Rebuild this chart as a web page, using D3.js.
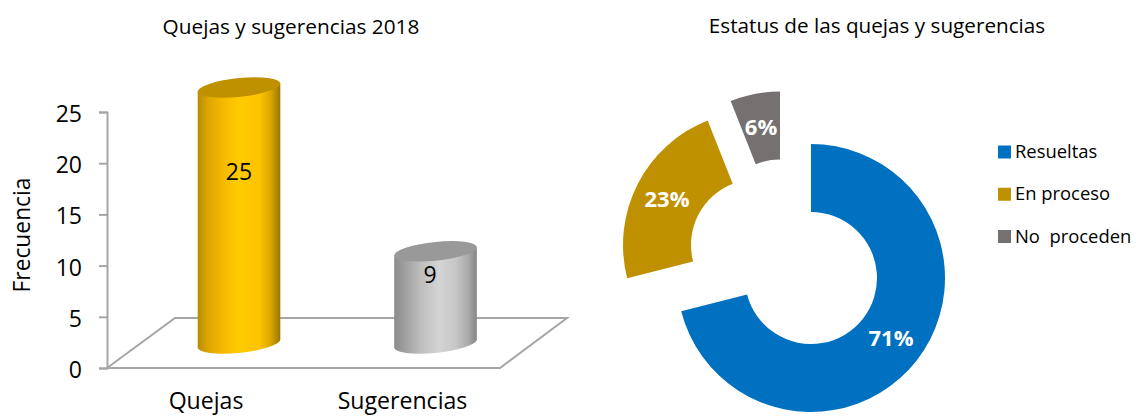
<!DOCTYPE html>
<html><head><meta charset="utf-8">
<script src="https://cdnjs.cloudflare.com/ajax/libs/d3/7.8.5/d3.min.js"></script>
<style>html,body{margin:0;padding:0;background:#fff}svg{display:block}text{font-family:"Open Sans",Lato,sans-serif;fill:#000;white-space:pre}</style>
</head><body><svg id="c" width="1136" height="416"></svg>
<script>
const barCategories = ["Quejas", "Sugerencias"];
const barValues = [25, 9];
const barTicks = [0, 5, 10, 15, 20, 25];
const donutCategories = ["Resueltas", "En proceso", "No  proceden"];
const donutValues = [71, 23, 6];
const donutColors = ["#0070C0", "#BF9000", "#767171"];
const titleLeft = "Quejas y sugerencias 2018";
const titleRight = "Estatus de las quejas y sugerencias";
const yTitle = "Frecuencia";

const svg = d3.select("#c");
const defs = svg.append("defs");
const grey = "#A6A6A6";

function grad(id, stops){
  const g = defs.append("linearGradient").attr("id", id);
  stops.forEach(([o,c]) => g.append("stop").attr("offset", o).attr("stop-color", c));
}
grad("gGold", [[0,"#B78B04"],[.12,"#DDA503"],[.3,"#F5B800"],[.5,"#FFCB00"],[.75,"#FDC300"],[.88,"#DCA700"],[1,"#9A7600"]]);
grad("gGrey", [[0,"#8C8C8C"],[.15,"#A2A2A2"],[.32,"#BEBEBE"],[.55,"#D4D4D4"],[.75,"#C6C6C6"],[.9,"#A8A8A8"],[1,"#858585"]]);

svg.append("text").attr("x",291).attr("y",34).attr("text-anchor","middle").style("font-size","20.8px").text(titleLeft);
svg.append("text").attr("x",877).attr("y",33).attr("text-anchor","middle").style("font-size","20.7px").text(titleRight);

// ---- bar chart
const y = d3.scaleLinear().domain([0,25]).range([368,112]);
const x = d3.scalePoint().domain(barCategories).range([239,435.5]);
const depthDx = 68, depthDy = -50, floorRight = 500, axisX = 107;
const baseLift = 24.5, rx = 41.3, ry = 9.4, skew = -5.6;

const floor = d3.path();
floor.moveTo(axisX, y(0));
floor.lineTo(axisX+depthDx, y(0)+depthDy);
floor.lineTo(floorRight+depthDx-1, y(0)+depthDy);
floor.lineTo(floorRight, y(0));
floor.closePath();
svg.append("path").attr("d",floor.toString()).attr("fill","none").attr("stroke",grey).attr("stroke-width",2);

const yAxis = svg.append("g").attr("transform",`translate(${axisX},0)`)
  .call(d3.axisLeft(y).tickValues(barTicks).tickSize(8).tickPadding(17));
yAxis.selectAll("path,line").attr("stroke",grey).attr("stroke-width",2);
yAxis.selectAll("text").style("font-size","23px").attr("dy","0.41em").attr("fill","#000");

const xAxis = svg.append("g").attr("transform","translate(-33.5,389)")
  .call(d3.axisBottom(x).tickSize(0).tickPadding(4));
xAxis.select(".domain").remove();
xAxis.selectAll("text").style("font-size","23.1px").attr("fill","#000");

svg.append("text").attr("transform","translate(29.5,235) rotate(-90)").attr("text-anchor","middle").style("font-size","22.8px").text(yTitle);

const bars = svg.append("g").selectAll("g").data(barValues).join("g")
  .attr("transform",(d,i)=>`translate(${x(barCategories[i])},0) skewY(${skew})`);
bars.append("path")
  .attr("d",d=>{
    const top = y(d)-baseLift, bot = y(0)-baseLift;
    return `M${-rx},${top}V${bot}A${rx},${ry} 0 0 0 ${rx},${bot}V${top}Z`;
  })
  .attr("fill",(d,i)=>`url(#${i?"gGrey":"gGold"})`);
bars.append("ellipse").attr("cx",0).attr("cy",d=>y(d)-baseLift).attr("rx",rx).attr("ry",ry)
  .attr("fill",(d,i)=>i?"#999999":"#BF9000");

const labelShift = [0,-5.5], labelDrop = [92,32];
svg.append("g").selectAll("text").data(barValues).join("text")
  .attr("x",(d,i)=>x(barCategories[i])+labelShift[i])
  .attr("y",(d,i)=>y(d)-baseLift+labelDrop[i])
  .attr("text-anchor","middle").style("font-size","23px").text(d=>d);

// ---- donut
const pie = d3.pie().sort(null)(donutValues);
const arc = d3.arc().innerRadius(66).outerRadius(134);
const centers = [[811,278],[757,245],[780,225.5]];
const labelPos = [[80,60.5],[-90,-46],[-19,-98.5]];
const donut = svg.append("g");
donut.selectAll("path").data(pie).join("path")
  .attr("transform",(d,i)=>`translate(${centers[i]})`)
  .attr("d",arc).attr("fill",(d,i)=>donutColors[i]);
donut.selectAll("text").data(pie).join("text")
  .attr("x",(d,i)=>centers[i][0]+labelPos[i][0])
  .attr("y",(d,i)=>centers[i][1]+labelPos[i][1])
  .attr("text-anchor","middle").attr("dy","0.35em")
  .style("font-size","22px").style("font-weight","700").style("fill","#fff")
  .text(d=>d.value+"%");

// ---- legend
const ly = d3.scalePoint().domain(donutCategories).range([152,236.5]);
const leg = svg.append("g").selectAll("g").data(donutCategories).join("g")
  .attr("transform",d=>`translate(998,${ly(d)})`);
leg.append("rect").attr("x",0).attr("y",-6.5).attr("width",13).attr("height",13).attr("fill",(d,i)=>donutColors[i]);
leg.append("text").attr("x",17).attr("y",6).style("font-size","18.4px").text(d=>d);
</script></body></html>
